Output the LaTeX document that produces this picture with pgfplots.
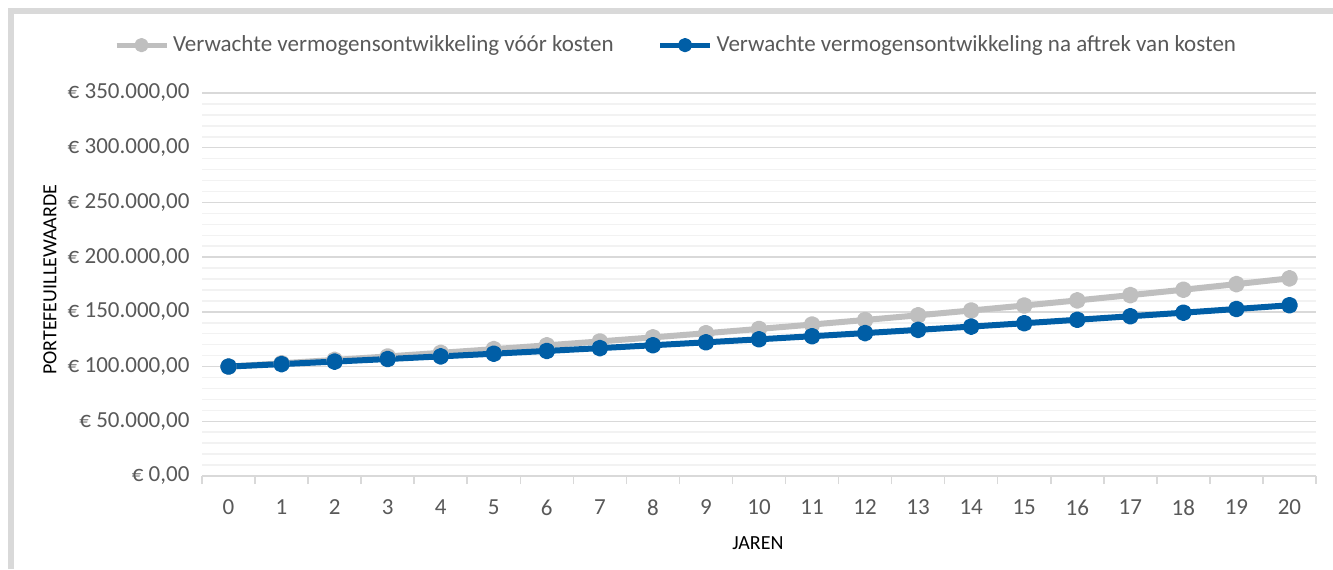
\documentclass[border=0pt]{standalone}
\usepackage{pgfplots}
\pgfplotsset{compat=1.18}
\usepackage{fontspec}
\setmainfont{Carlito}
\definecolor{txt}{HTML}{595959}
\definecolor{majgrid}{HTML}{D9D9D9}
\definecolor{mingrid}{HTML}{F2F2F2}
\definecolor{sgray}{HTML}{BFBFBF}
\definecolor{sblue}{RGB}{0,94,166}
\begin{document}
\begin{tikzpicture}[x=1pt,y=1pt]
\useasboundingbox (0,0) rectangle (666.5,284.5);
\fill[white] (0,0) rectangle (666.5,284.5);
\draw[line width=3pt, majgrid] (5.5,0) -- (5.5,279) -- (666.5,279);
\begin{axis}[
  at={(101pt,46.5pt)}, anchor=south west,
  width=557pt, height=191.5pt, scale only axis,
  xmin=-0.5, xmax=20.5, ymin=0, ymax=350000,
  scaled y ticks=false,
  xtick={0,1,...,20},
  xticklabels={0,1,2,3,4,5,6,7,8,9,10,11,12,13,14,15,16,17,18,19,20},
  ytick={0,50000,...,350000},
  yticklabels={{€ 0,00},{€ 50.000,00},{€ 100.000,00},{€ 150.000,00},{€ 200.000,00},{€ 250.000,00},{€ 300.000,00},{€ 350.000,00}},
  extra y ticks={10000,20000,30000,40000,60000,70000,80000,90000,110000,120000,130000,140000,160000,170000,180000,190000,210000,220000,230000,240000,260000,270000,280000,290000,310000,320000,330000,340000},
  extra y tick labels={},
  extra y tick style={ymajorgrids=true, major grid style={mingrid, line width=0.75pt}},
  ymajorgrids=true,
  major grid style={majgrid, line width=0.75pt},
  extra x ticks={-0.5,0.5,...,20.5},
  extra x tick labels={},
  extra x tick style={xtick style={draw=majgrid, line width=0.75pt}, major tick length=4pt},
  tick align=outside,
  xtick pos=lower,
  xtick style={draw=none},
  ytick style={draw=none},
  separate axis lines,
  x axis line style={draw=majgrid, line width=0.75pt},
  y axis line style={draw=none},
  tick label style={font=\fontsize{11.5}{13}\selectfont, text=txt},
  yticklabel style={xshift=1.5pt},
  xticklabel style={yshift=-4pt},
  xlabel={JAREN},
  ylabel={PORTEFEUILLEWAARDE},
  label style={font=\fontsize{10.4}{12}\selectfont, text=txt},
  every axis x label/.style={at={(axis description cs:0.499,-0.175)}, anchor=center},
  every axis y label/.style={at={(axis description cs:-0.1364,0.512)}, anchor=center, rotate=90},
  legend columns=2,
  legend cell align=left,
  legend style={draw=none, fill=none, at={(axis description cs:0.4264,1.125)}, anchor=center,
    font=\fontsize{11.5}{13}\selectfont, text=txt,
    /tikz/every even column/.append style={column sep=20pt}},
  legend image code/.code={\draw[mark repeat=2,mark phase=2,#1, line width=2.5pt, mark size=2.3pt] plot coordinates {(0pt,0pt) (12.5pt,0pt) (25pt,0pt)};},
]
\addplot[sgray, line width=3pt, line join=round, mark=*, mark size=2.7pt, mark options={fill=sgray, draw=sgray}] coordinates {
(0,100000) (1,103000) (2,106090) (3,109273) (4,112551) (5,115927) (6,119405) (7,122987) (8,126677) (9,130477) (10,134392) (11,138423) (12,142576) (13,146853) (14,151259) (15,155797) (16,160471) (17,165285) (18,170243) (19,175351) (20,180611)
};
\addlegendentry{Verwachte vermogensontwikkeling vóór kosten}
\addplot[sblue, line width=3pt, line join=round, mark=*, mark size=2.7pt, mark options={fill=sblue, draw=sblue}] coordinates {
(0,100000) (1,102250) (2,104551) (3,106903) (4,109308) (5,111768) (6,114283) (7,116854) (8,119483) (9,122172) (10,124920) (11,127731) (12,130605) (13,133544) (14,136548) (15,139621) (16,142762) (17,145974) (18,149259) (19,152617) (20,156051)
};
\addlegendentry{Verwachte vermogensontwikkeling na aftrek van kosten}
\end{axis}
\end{tikzpicture}
\end{document}
